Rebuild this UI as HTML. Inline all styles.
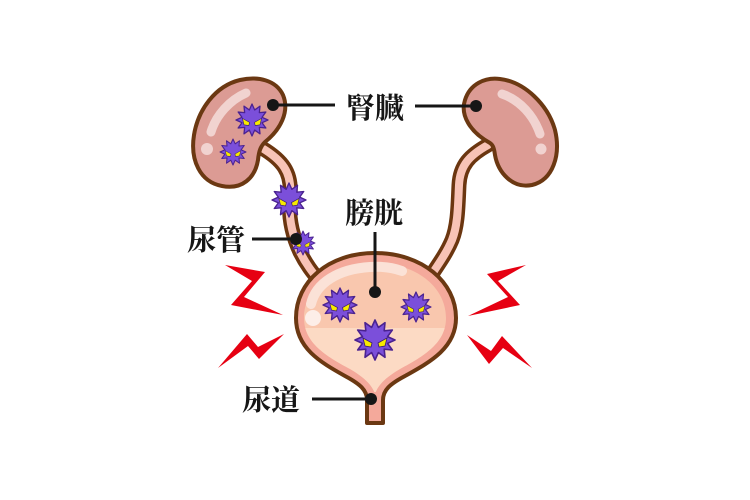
<!DOCTYPE html>
<html><head><meta charset="utf-8"><style>
html,body{margin:0;padding:0;background:#fff;}
svg{display:block;}
text{font-family:"Liberation Serif","Noto Serif CJK JP","Noto Serif CJK SC",serif;font-weight:700;fill:#161616;}
</style></head><body>
<svg width="750" height="500" viewBox="0 0 750 500" xmlns="http://www.w3.org/2000/svg">
<defs>
<g id="bug">
<polygon points="20,0 12.56,3.37 17.32,10 9.19,9.19 10,17.32 3.37,12.56 0,20 -3.37,12.56 -10,17.32 -9.19,9.19 -17.32,10 -12.56,3.37 -20,0 -12.56,-3.37 -17.32,-10 -9.19,-9.19 -10,-17.32 -3.37,-12.56 0,-20 3.37,-12.56 10,-17.32 9.19,-9.19 17.32,-10 12.56,-3.37" fill="#7b4fda" stroke="#4a2290" stroke-width="1.6" stroke-linejoin="round"/>
<polygon points="-12,-2 -3,3 -4,7 -10,6" fill="#f7ea00" stroke="#3a1a70" stroke-width="0.8"/>
<polygon points="12,-2 3,3 4,7 10,6" fill="#f7ea00" stroke="#3a1a70" stroke-width="0.8"/>
</g>
</defs>

<!-- ureters -->
<path d="M 262,148 C 282,160 292,172 290,195 C 288,215 292,235 300,252 C 306,264 312,272 322,284" fill="none" stroke="#6b3610" stroke-width="15" stroke-linecap="round"/>
<path d="M 262,148 C 282,160 292,172 290,195 C 288,215 292,235 300,252 C 306,264 312,272 322,284" fill="none" stroke="#f8c3b6" stroke-width="8" stroke-linecap="round"/>
<path d="M 488,145 C 470,155 460,165 459,185 C 458,205 458,225 452,240 C 447,252 440,262 430,277" fill="none" stroke="#6b3610" stroke-width="15" stroke-linecap="round"/>
<path d="M 488,145 C 470,155 460,165 459,185 C 458,205 458,225 452,240 C 447,252 440,262 430,277" fill="none" stroke="#f8c3b6" stroke-width="8" stroke-linecap="round"/>

<!-- left kidney -->
<path d="M 265,142 C 280,130 290,112 283,95 C 276,80 258,76 240,80 C 215,86 198,110 194,135 C 190,160 200,182 222,186 C 242,190 255,178 258,160 C 259,150 261,146 265,142 Z" fill="#dc9b94" stroke="#6b3812" stroke-width="4" stroke-linejoin="round"/>
<path d="M 246,93 C 230,100 216,115 211,132" fill="none" stroke="#f1d3d0" stroke-width="9" stroke-linecap="round"/>
<circle cx="207" cy="149" r="6" fill="#f1d3d0"/>

<!-- right kidney -->
<path d="M 490,143 C 470,132 460,115 465,100 C 470,84 485,77 500,79 C 525,82 548,105 555,130 C 561,155 553,180 532,185 C 512,189 498,172 495,155 C 494,148 493,145 490,143 Z" fill="#dc9b94" stroke="#6b3812" stroke-width="4" stroke-linejoin="round"/>
<path d="M 502,94 C 520,100 534,116 540,134" fill="none" stroke="#f1d3d0" stroke-width="9" stroke-linecap="round"/>
<circle cx="541" cy="149" r="5.5" fill="#f1d3d0"/>

<!-- bladder -->
<path d="M 375,253 C 422,253 456,282 456,318 C 456,348 430,362 405,376 C 390,384 383,390 383,400 L 383,423 L 367,423 L 367,400 C 367,390 360,384 345,376 C 320,362 296,348 296,318 C 296,282 328,253 375,253 Z" fill="#f4a99b" stroke="#6b3812" stroke-width="4" stroke-linejoin="round"/>
<clipPath id="inner"><path d="M 375,263 C 416,263 446,287 446,318 C 446,343 424,356 400,369 C 388,376 378,384 375,394 C 372,384 362,376 350,369 C 326,356 304,343 304,318 C 304,287 334,263 375,263 Z"/></clipPath>
<g clip-path="url(#inner)">
<rect x="290" y="255" width="170" height="150" fill="#f9c7ae"/>
<rect x="290" y="328" width="170" height="80" fill="#fcdac4"/>
</g>
<path d="M 311,304 C 316,283 338,269 370,267 C 384,266 394,268 402,271" fill="none" stroke="#fbe4d9" stroke-width="10" stroke-linecap="round" opacity="0.95"/>
<circle cx="313" cy="318" r="8" fill="#fdeee8"/>
<rect x="371" y="392" width="8" height="29" fill="#f4a99b"/>

<!-- bugs -->
<use href="#bug" transform="translate(252,120) scale(0.8)"/>
<use href="#bug" transform="translate(233,152) scale(0.65)"/>
<use href="#bug" transform="translate(289,200) scale(0.85)"/>
<use href="#bug" transform="translate(303,243) scale(0.6)"/>
<use href="#bug" transform="translate(340,305) scale(0.85)"/>
<use href="#bug" transform="translate(416,307) scale(0.75)"/>
<use href="#bug" transform="translate(375,340) scale(1.0)"/>

<!-- labels -->
<g stroke="#161616" stroke-width="3">
<line x1="273" y1="105" x2="335" y2="105"/>
<line x1="415" y1="106" x2="476" y2="106"/>
<line x1="375" y1="232" x2="375" y2="292"/>
<line x1="252" y1="239" x2="296" y2="239"/>
<line x1="312" y1="399" x2="371" y2="399"/>
</g>
<g fill="#161616">
<circle cx="273" cy="105" r="6"/>
<circle cx="476" cy="106" r="6"/>
<circle cx="375" cy="292" r="6"/>
<circle cx="296" cy="239" r="6"/>
<circle cx="371" cy="399" r="6"/>
</g>
<text x="375" y="118" font-size="29" text-anchor="middle">腎臓</text>
<text x="374" y="223" font-size="29" text-anchor="middle">膀胱</text>
<text x="216" y="250" font-size="29" text-anchor="middle">尿管</text>
<text x="271" y="410" font-size="29" text-anchor="middle">尿道</text>

<!-- zigzags -->
<g fill="#e60012">
<polygon points="225,265 265,272 244,297 283,315 231,305 252,281"/>
<polygon points="218,368 247,334 258,347 284,334 259,359 248,346"/>
<polygon points="526,265 487,274 508,297 468,316 520,305 498,281"/>
<polygon points="467,335 491,351 502,336 532,368 503,348 489,364"/>
</g>
</svg>
</body></html>
